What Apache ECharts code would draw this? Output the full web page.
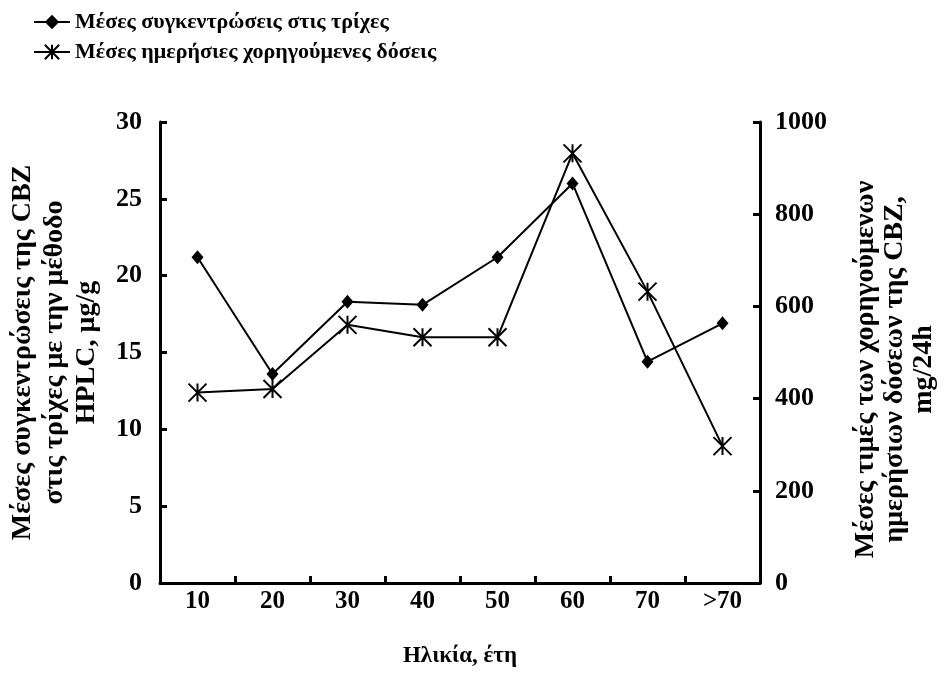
<!DOCTYPE html>
<html>
<head>
<meta charset="utf-8">
<script src="https://cdn.jsdelivr.net/npm/echarts@6/dist/echarts.min.js"></script>
<style>
  html, body { margin: 0; padding: 0; background: #fff; }
  #chart { width: 944px; height: 683px; }
</style>
</head>
<body>
<div id="chart"></div>
<script>
// Age groups (years)
const ageGroups = ['10', '20', '30', '40', '50', '60', '70', '>70'];
// Mean CBZ concentration in hair (HPLC), μg/g — left axis
const hairConc = [21.2, 13.6, 18.3, 18.1, 21.2, 26.0, 14.4, 16.9];
// Mean administered daily dose of CBZ, mg/24h — right axis
const dailyDose = [413, 421, 560, 533, 533, 932, 632, 297];

const seriesNames = [
  'Μέσες συγκεντρώσεις στις τρίχες',
  'Μέσες ημερήσιες χορηγούμενες δόσεις'
];

const serif = '"Liberation Serif", "Times New Roman", "DejaVu Serif", serif';
function font(size, extra) {
  return Object.assign({ fontFamily: serif, fontWeight: 'bold', fontSize: size, color: '#000' }, extra || {});
}

// six-armed asterisk marker
const starPath = 'path://M0,0L10,10M10,0L0,10M5,0L5,10';

const chart = echarts.init(document.getElementById('chart'));

const axisLine = { show: true, lineStyle: { color: '#000', width: 3 } };
const axisTick = { show: true, inside: true, length: 7, lineStyle: { color: '#000', width: 3 } };

chart.setOption({
  backgroundColor: '#fff',
  animation: false,
  legend: {
    orient: 'vertical',
    left: 28,
    top: 6,
    itemGap: 8,
    itemWidth: 36,
    itemHeight: 18,
    textStyle: font(22),
    data: seriesNames
  },
  grid: { left: 160, right: 184, top: 122, bottom: 100, outerBoundsMode: 'none', containLabel: false },
  xAxis: {
    type: 'category',
    data: ageGroups,
    boundaryGap: true,
    axisLine: axisLine,
    axisTick: axisTick,
    axisLabel: font(25, { margin: 6 }),
    name: 'Ηλικία, έτη',
    nameLocation: 'middle',
    nameGap: 62,
    nameTextStyle: font(23)
  },
  yAxis: [
    {
      type: 'value',
      min: 0, max: 30, interval: 5,
      axisLine: axisLine,
      axisTick: axisTick,
      splitLine: { show: false },
      axisLabel: font(26, { margin: 18 }),
      name: 'Μέσες συγκεντρώσεις της CBZ\nστις τρίχες με την μέθοδο\nHPLC, μg/g',
      nameLocation: 'middle',
      nameRotate: 90,
      nameGap: 57,
      nameTextStyle: font(28, { lineHeight: 32 })
    },
    {
      type: 'value',
      min: 0, max: 1000, interval: 200,
      position: 'right',
      axisLine: axisLine,
      axisTick: axisTick,
      splitLine: { show: false },
      axisLabel: font(26, { margin: 15, formatter: function (v) { return String(v); } }),
      name: 'Μέσες τιμές των χορηγούμενων\nημερήσιων δόσεων της CBZ,\nmg/24h',
      nameLocation: 'middle',
      nameRotate: 90,
      nameGap: 91,
      nameTextStyle: font(28, { lineHeight: 29, padding: [0, 34, 0, 0] })
    }
  ],
  series: [
    {
      name: seriesNames[0],
      type: 'line',
      yAxisIndex: 0,
      data: hairConc,
      symbol: 'diamond',
      symbolSize: [12, 14],
      showAllSymbol: true,
      lineStyle: { color: '#000', width: 2 },
      itemStyle: { color: '#000' }
    },
    {
      name: seriesNames[1],
      type: 'line',
      yAxisIndex: 1,
      data: dailyDose,
      symbol: starPath,
      symbolSize: 18,
      showAllSymbol: true,
      lineStyle: { color: '#000', width: 2 },
      itemStyle: { color: 'none', borderColor: '#000', borderWidth: 2 }
    }
  ]
});
</script>
</body>
</html>
